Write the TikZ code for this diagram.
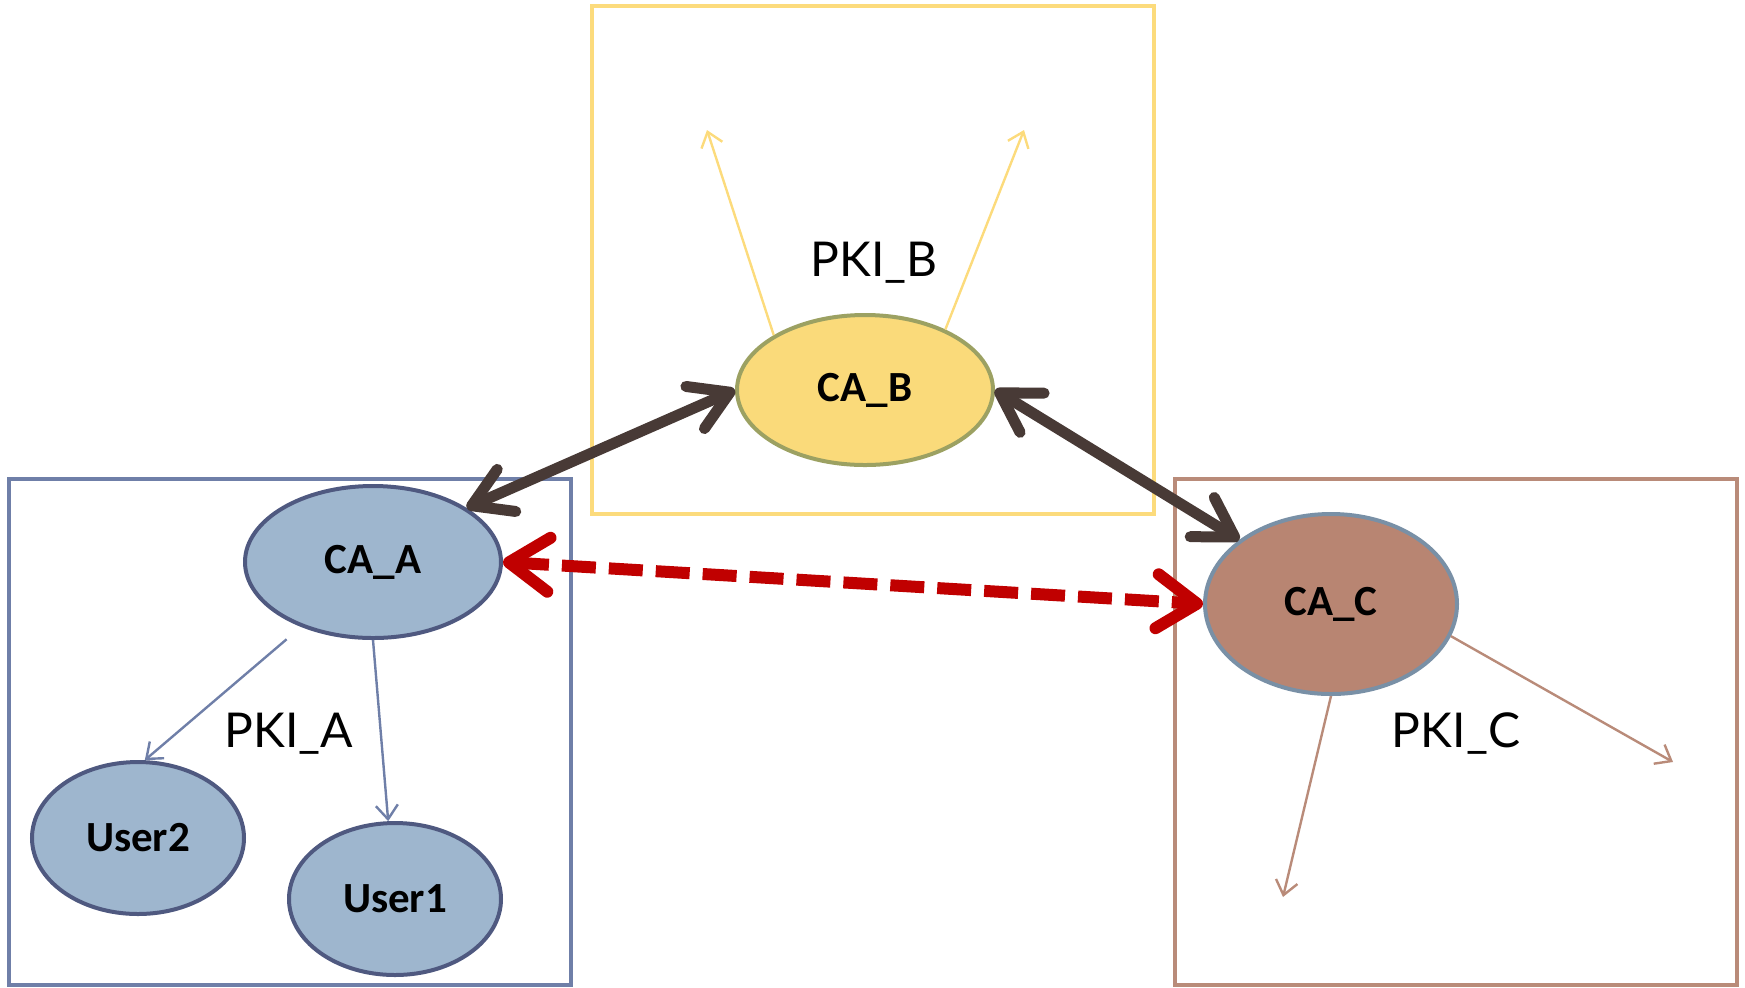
\documentclass[tikz,border=0pt]{standalone}
\usepackage{fontspec}
\setmainfont{Carlito}
\newfontfamily\pkifont{Lato}
\usetikzlibrary{shapes.geometric,arrows.meta}

\definecolor{boxA}{HTML}{6F7FA8}
\definecolor{fillA}{HTML}{9EB6CE}
\definecolor{drawA}{HTML}{4F5980}
\definecolor{boxB}{HTML}{FCDB7C}
\definecolor{fillB}{HTML}{FADA7A}
\definecolor{drawB}{HTML}{9CA162}
\definecolor{boxC}{HTML}{B98B79}
\definecolor{fillC}{HTML}{B88572}
\definecolor{drawC}{HTML}{7990A6}
\definecolor{darkArrow}{HTML}{483A36}
\definecolor{crossRed}{HTML}{C00000}

\begin{document}
\begin{tikzpicture}
[x=0.5pt,y=-0.5pt,
  boxDecorate/.style={line width=2pt},
  caDecorate/.style={shape=ellipse,draw,line width=2pt,inner sep=0pt,%
    minimum width=128pt,minimum height=76pt,font=\bfseries\fontsize{21.5}{25}\selectfont},
  userDecorate/.style={caDecorate,minimum width=106pt,minimum height=76pt},
  pkiDecorate/.style={font=\pkifont\fontsize{24}{28}\selectfont},
  thinDecorate/.style={-{Straight Barb[length=7pt,width=11pt]},line width=1.2pt},
  trustDecorate/.style={{Straight Barb[round,length=19pt,width=23pt]}-{Straight Barb[round,length=19pt,width=23pt]},%
    line width=5.5pt,darkArrow},
  crossDecorate/.style={{Straight Barb[round,length=20pt,width=27pt]}-{Straight Barb[round,length=20pt,width=27pt]},%
    line width=6pt,crossRed,dash pattern=on 17pt off 6.5pt}]
\useasboundingbox (0,0) rectangle (1745,987);
%% domain boxes
\draw[boxDecorate,boxB] (592,6) rectangle (1154,514);
\draw[boxDecorate,boxA] (9,479) rectangle (571,985);
\draw[boxDecorate,boxC] (1175,479) rectangle (1737,985);
%% nodes
\node (CAB) at (865,390) [caDecorate,fill=fillB,draw=drawB,minimum height=75pt] {CA\_B};
\node (CAA) at (373,562) [caDecorate,fill=fillA,draw=drawA] {CA\_A};
\node (CAC) at (1331,604) [caDecorate,fill=fillC,draw=drawC,minimum width=126pt,minimum height=90pt] {CA\_C};
\foreach \nodename/\x/\y/\txt in {User2/138/838/User2, User1/395/899/User1} {
  \node (\nodename) at (\x,\y) [userDecorate,fill=fillA,draw=drawA] {\txt};
}
%% labels
\node (pkiB) at (874,263) [pkiDecorate] {PKI\_B};
\node (pkiA) at (289,734) [pkiDecorate] {PKI\_A};
\node (pkiC) at (1456,734) [pkiDecorate] {PKI\_C};
%% free ends
\coordinate (endB1) at (707,130);
\coordinate (endB2) at (1024,130);
\coordinate (endC1) at (1283,897);
\coordinate (endC2) at (1673,762);
%% issued certificates
\draw[thinDecorate,boxB] (CAB.149) -- (endB1);
\draw[thinDecorate,boxB] (CAB.37) -- (endB2);
\draw[thinDecorate,boxA] ([yshift=-9.5pt]CAA.214) -- (User2.85);
\draw[thinDecorate,boxA] (CAA.south) -- (User1.95);
\draw[thinDecorate,boxC] (CAC.south) -- (endC1);
\draw[thinDecorate,boxC] (CAC.-15) -- (endC2);
%% cross certification
\draw[trustDecorate] (CAA.30) -- (CAB.west);
\draw[trustDecorate] (CAB.east) -- (CAC.145);
\draw[crossDecorate] (CAA.east) -- (CAC.west);
\end{tikzpicture}
\end{document}
